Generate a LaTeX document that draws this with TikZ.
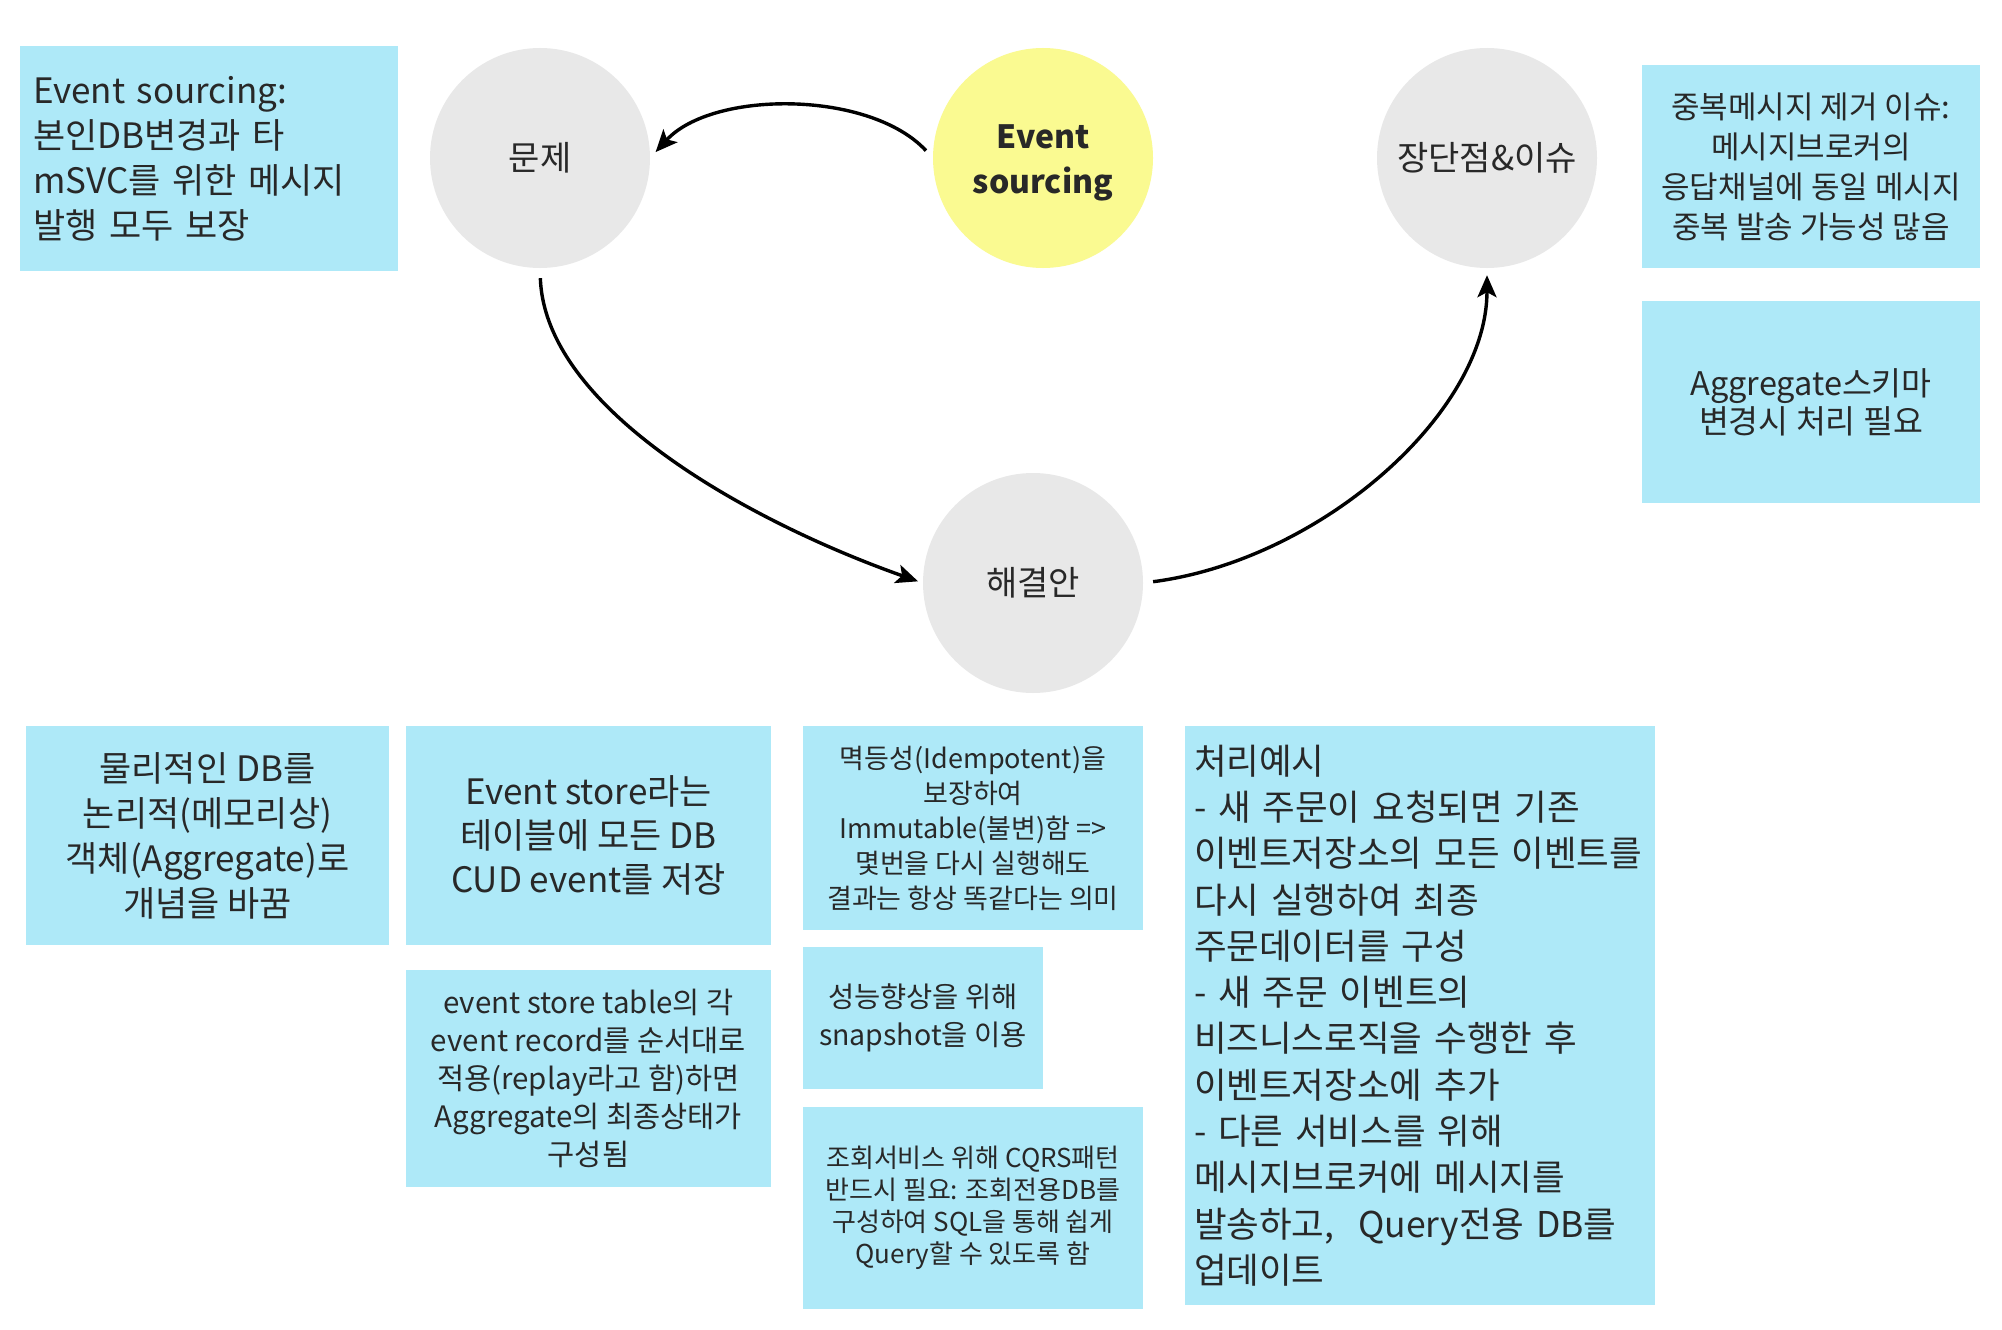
\documentclass[tikz,border=0pt]{standalone}
\usepackage{fontspec}
\setmainfont{Noto Sans CJK KR}
\usetikzlibrary{arrows.meta}
\definecolor{boxc}{RGB}{174,233,248}
\definecolor{grayc}{RGB}{232,232,232}
\definecolor{yelc}{RGB}{250,250,145}
\definecolor{txt}{RGB}{40,40,40}
\tikzset{
  note/.style={fill=boxc, draw=none, inner sep=0pt, text=txt, align=center},
  bubble/.style={circle, minimum size=220pt, inner sep=0pt, fill=grayc, text=txt, font=\fontsize{34}{40}\selectfont},
  conn/.style={-{Stealth[length=22pt,width=19pt,inset=5pt]}, line width=3.4pt, black},
}
\begin{document}
\begin{tikzpicture}[x=1pt,y=-1pt]
\useasboundingbox (0,0) rectangle (2002,1330);
\fill[white] (0,0) rectangle (2002,1330);

% circles
\node[bubble] (prob) at (540,158) {문제};
\node[bubble, fill=yelc, align=center, font=\fontsize{32}{45}\selectfont\bfseries] (es) at (1043,158) {\rule{0pt}{33pt}Event\\sourcing};
\node[bubble] (pros) at (1487,158) {장단점\&이슈};
\node[bubble] (sol) at (1033,583) {해결안};

% connectors
\draw[conn, shorten <=10pt, shorten >=8pt] (es.west) .. controls +(-63,-68) and +(62,-68) .. (prob.east);
\draw[conn, shorten <=10pt, shorten >=5pt] (prob.south) .. controls +(5,142) and +(-170,-60) .. (sol.west);
\draw[conn, shorten <=10pt, shorten >=7pt] (sol.east) .. controls +(177,-23) and +(0,145) .. (pros.south);

% notes
\node[note, minimum width=378pt, minimum height=225pt, align=left, text width=352pt,
      font=\fontsize{35}{45}\selectfont] (b1) at (209,158.5)
  {Event sourcing:\\본인DB변경과 타\\mSVC를 위한 메시지\\발행 모두 보장};

\node[note, minimum width=338pt, minimum height=203pt, font=\fontsize{31}{40}\selectfont] (tr1) at (1811,166.5)
  {중복메시지 제거 이슈:\\메시지브로커의\\응답채널에 동일 메시지\\중복 발송 가능성 많음};

\node[note, minimum width=338pt, minimum height=202pt, font=\fontsize{32.5}{38}\selectfont] (tr2) at (1811,402)
  {Aggregate스키마\\변경시 처리 필요};

\node[note, minimum width=363pt, minimum height=219pt, font=\fontsize{35}{45}\selectfont] (na) at (207.5,835.5)
  {물리적인 DB를\\논리적(메모리상)\\객체(Aggregate)로\\개념을 바꿈};

\node[note, minimum width=365pt, minimum height=219pt, font=\fontsize{35}{44}\selectfont] (nb) at (588.5,835.5)
  {Event store라는\\테이블에 모든 DB\\CUD event를 저장};

\node[note, minimum width=365pt, minimum height=217pt, font=\fontsize{29.5}{38}\selectfont] (nc) at (588.5,1078.5)
  {event store table의 각\\event record를 순서대로\\적용(replay라고 함)하면\\Aggregate의 최종상태가\\구성됨};

\node[note, minimum width=340pt, minimum height=204pt, font=\fontsize{27}{35}\selectfont] (nd) at (973,828)
  {멱등성(Idempotent)을\\보장하여\\Immutable(불변)함 =>\\몇번을 다시 실행해도\\결과는 항상 똑같다는 의미};

\node[note, minimum width=240pt, minimum height=142pt, font=\fontsize{28.5}{38}\selectfont] (ne) at (923,1018)
  {성능향상을 위해\\snapshot을 이용};

\node[note, minimum width=340pt, minimum height=202pt, font=\fontsize{26}{32}\selectfont] (nf) at (973,1208)
  {조회서비스 위해 CQRS패턴\\반드시 필요: 조회전용DB를\\구성하여 SQL을 통해 쉽게\\Query할 수 있도록 함};

\node[note, minimum width=470pt, minimum height=579pt, align=left, text width=452pt,
      font=\fontsize{35.5}{46.3}\selectfont] (ng) at (1420,1015.5)
  {처리예시\\- 새 주문이 요청되면 기존\\이벤트저장소의 모든 이벤트를\\다시 실행하여 최종\\주문데이터를 구성\\- 새 주문 이벤트의\\비즈니스로직을 수행한 후\\이벤트저장소에 추가\\- 다른 서비스를 위해\\메시지브로커에 메시지를\\발송하고,~~Query전용 DB를\\업데이트};
\end{tikzpicture}
\end{document}
